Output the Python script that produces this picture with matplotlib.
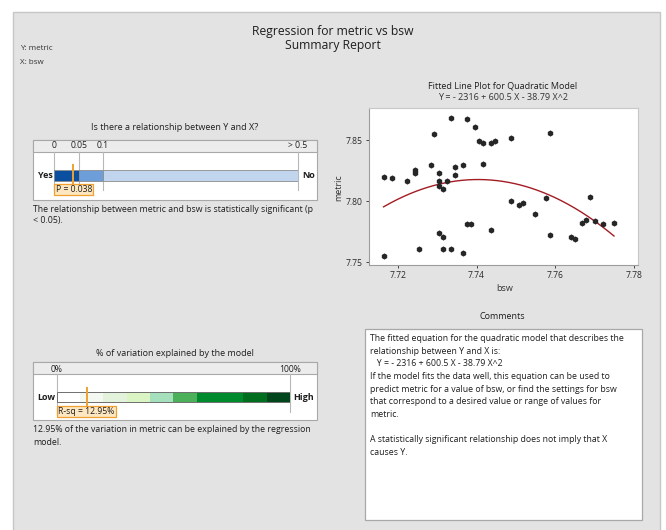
import numpy as np
import matplotlib.pyplot as plt
from matplotlib.patches import Rectangle

plt.rcParams['font.family'] = ['Open Sans', 'DejaVu Sans']

W, H = 666, 530

# observations
bsw = [7.7164, 7.7185, 7.7164, 7.7223, 7.7244, 7.7244, 7.7255, 7.7285, 7.7293, 7.7304,
       7.7304, 7.7304, 7.7315, 7.7304, 7.7315, 7.7315, 7.7324, 7.7334, 7.7334, 7.7345,
       7.7345, 7.7365, 7.7365, 7.7375, 7.7375, 7.7385, 7.7395, 7.7406, 7.7416, 7.7416,
       7.7436, 7.7446, 7.7436, 7.7488, 7.7488, 7.7507, 7.7517, 7.7548, 7.7577, 7.7587,
       7.7587, 7.7639, 7.7649, 7.7668, 7.7678, 7.7689, 7.7700, 7.7720, 7.7749]
metric = [7.8196, 7.8191, 7.7550, 7.8166, 7.8256, 7.8229, 7.7608, 7.8297, 7.8548, 7.8229,
          7.8169, 7.8125, 7.8098, 7.7741, 7.7711, 7.7605, 7.8169, 7.8681, 7.7608, 7.8210,
          7.8281, 7.8292, 7.7578, 7.8670, 7.7815, 7.7815, 7.8610, 7.8496, 7.8474, 7.8300,
          7.8474, 7.8496, 7.7763, 7.8515, 7.8005, 7.7967, 7.7986, 7.7896, 7.8025, 7.8559,
          7.7725, 7.7711, 7.7692, 7.7823, 7.7850, 7.8038, 7.7837, 7.7815, 7.7823]

# quadratic fit: Y = c + b X + a X^2
coef_b = 600.5
coef_a = -38.79
fit_peak = 7.8177

p_value = 0.038
p_ticks = [0, 0.05, 0.1, 0.5]
p_tick_labels = ['0', '0.05', '0.1', '> 0.5']
p_colors = ['#0b50a0', '#6d9ed9', '#c1d5ef']

rsq = 12.95
rsq_edges = [0, 10, 20, 30, 40, 50, 60, 80, 90, 100]
rsq_colors = ['#ffffff', '#f3f9f1', '#e3f2db', '#daf5c3', '#a6dfbc',
              '#4caf5a', '#008a2e', '#006e1f', '#00451b']

equation = 'Y = - 2316 + 600.5 X - 38.79 X^2'

ORANGE = '#f0a030'
TXT = '#1e1e1e'
FS = 6.3


def box(x0, y0, x1, y1):
    return [x0 / W, 1 - y1 / H, (x1 - x0) / W, (y1 - y0) / H]


def txt(x, y, s, **kw):
    kw.setdefault('va', 'center')
    kw.setdefault('color', TXT)
    kw.setdefault('fontsize', FS)
    return fig.text(x / W, 1 - y / H, s, **kw)


def rect(x0, y0, x1, y1, **kw):
    fig.patches.append(Rectangle((x0 / W, 1 - y1 / H), (x1 - x0) / W, (y1 - y0) / H,
                                 transform=fig.transFigure, zorder=-5, **kw))


fig = plt.figure(figsize=(W / 100, H / 100), dpi=100)
fig.patch.set_facecolor('white')
rect(13, 12, 660, 531, facecolor='#e3e3e3', edgecolor='#c6c6c6', lw=1)

# header
txt(333, 31, 'Regression for metric vs bsw', ha='center', fontsize=8.7)
txt(333, 45, 'Summary Report', ha='center', fontsize=8.7)
txt(20, 49, 'Y: metric', fontsize=5.8, color='#333333')
txt(20, 62, 'X: bsw', fontsize=5.8, color='#333333')

# ---- p-value panel ----
txt(175, 128, 'Is there a relationship between Y and X?', ha='center', fontsize=6.5)
rect(32.7, 140, 316.7, 200, facecolor='white', edgecolor='#a8a8a8', lw=0.8)
rect(32.7, 140, 316.7, 152, facecolor='#ececec', edgecolor='#a8a8a8', lw=0.8)

p_pos = [0, 25, 48.4, 243.7]
ax_p = fig.add_axes(box(54.3, 152, 298, 190))
ax_p.set_xscale('function', functions=(lambda p: np.interp(p, p_ticks, p_pos),
                                       lambda u: np.interp(u, p_pos, p_ticks)))
ax_p.set_xlim(0, 0.5)
ax_p.set_ylim(190, 152)
ax_p.axis('off')
for t in p_ticks:
    ax_p.axvline(t, color='#b8b8b8', lw=0.8, clip_on=False, zorder=1)
for t, lab in zip(p_ticks, p_tick_labels):
    ax_p.text(t, 146, lab, ha='center', va='center', fontsize=6.2, color=TXT, clip_on=False)
for i, c in enumerate(p_colors):
    ax_p.barh(175.5, p_ticks[i + 1] - p_ticks[i], left=p_ticks[i], height=11,
              color=c, edgecolor='#8c8c8c', lw=0.6, zorder=2)
ax_p.plot([p_value, p_value], [165, 184], color=ORANGE, lw=1.4, zorder=3, clip_on=False)
txt(52.5, 175.7, 'Yes', ha='right', fontsize=6.5, fontweight='bold')
txt(302.5, 175.7, 'No', ha='left', fontsize=6.5, fontweight='bold')
txt(55.5, 189.5, 'P = %.3f' % p_value, ha='left', fontsize=6.2,
    bbox=dict(boxstyle='square,pad=0.15', fc='#fde7c0', ec=ORANGE, lw=0.9))
txt(33, 209, 'The relationship between metric and bsw is statistically significant (p')
txt(33, 220.5, '< 0.05).')

# ---- R-sq panel ----
txt(175, 353, '% of variation explained by the model', ha='center', fontsize=6.5)
rect(32.7, 362, 316.7, 420, facecolor='white', edgecolor='#a8a8a8', lw=0.8)
rect(32.7, 362, 316.7, 374, facecolor='#ececec', edgecolor='#a8a8a8', lw=0.8)

ax_r = fig.add_axes(box(56.7, 374, 290, 412))
ax_r.set_xlim(0, 100)
ax_r.set_ylim(412, 374)
ax_r.axis('off')
for t in (0, 100):
    ax_r.axvline(t, color='#b8b8b8', lw=0.8, clip_on=False, zorder=1)
    ax_r.text(t, 369.3, '%d%%' % t, ha='center', va='center', fontsize=6.2, color=TXT,
              clip_on=False)
for i, c in enumerate(rsq_colors):
    ax_r.barh(397, rsq_edges[i + 1] - rsq_edges[i], left=rsq_edges[i], height=10,
              color=c, lw=0, zorder=2)
ax_r.barh(397, 100, height=10, fill=False, edgecolor='#6e6e6e', lw=0.7, zorder=3)
ax_r.plot([rsq, rsq], [388, 406.5], color=ORANGE, lw=1.4, zorder=4, clip_on=False)
txt(55, 397.7, 'Low', ha='right', fontsize=6.5, fontweight='bold')
txt(293, 397.7, 'High', ha='left', fontsize=6.5, fontweight='bold')
txt(58, 411.7, 'R-sq = %.2f%%' % rsq, ha='left', fontsize=6.2,
    bbox=dict(boxstyle='square,pad=0.15', fc='#fde7c0', ec=ORANGE, lw=0.9))
txt(33, 430, '%.2f%% of the variation in metric can be explained by the regression' % rsq)
txt(33, 442.5, 'model.')

# ---- fitted line plot ----
ax = fig.add_axes(box(369, 108, 638, 265))
ax.set_facecolor('white')
ax.scatter(bsw, metric, s=20, color='#262626', marker='h', linewidths=0, zorder=3)
x_peak = -coef_b / (2 * coef_a)
coef_c = fit_peak - coef_b * x_peak - coef_a * x_peak ** 2
xs = np.linspace(min(bsw), max(bsw), 200)
ax.plot(xs, coef_c + coef_b * xs + coef_a * xs ** 2, color='#a31c24', lw=1.0, zorder=2)
ax.set_xlim(7.7127, 7.781)
ax.set_ylim(7.7478, 7.8762)
ax.set_xticks([7.72, 7.74, 7.76, 7.78])
ax.set_yticks([7.75, 7.80, 7.85])
ax.xaxis.set_major_formatter(plt.FormatStrFormatter('%.2f'))
ax.yaxis.set_major_formatter(plt.FormatStrFormatter('%.2f'))
ax.tick_params(labelsize=6.2, colors='#2a2a2a', length=2.5, width=0.6, pad=2)
for side in ('left', 'bottom'):
    ax.spines[side].set_color('#9c9c9c')
for side in ('top', 'right'):
    ax.spines[side].set_color('#c8c8c8')
for s in ax.spines.values():
    s.set_linewidth(0.8)
txt(503, 85.7, 'Fitted Line Plot for Quadratic Model', ha='center', fontsize=6.5)
txt(503, 97.3, equation, ha='center', fontsize=6.5, color='#333333')
txt(338.3, 188, 'metric', ha='center', rotation=90, fontsize=6.5, color='#333333')
txt(505, 288.3, 'bsw', ha='center', fontsize=6.5, color='#333333')

# ---- comments ----
txt(502, 316.7, 'Comments', ha='center', fontsize=6.5)
rect(365, 329.3, 641.5, 519.5, facecolor='white', edgecolor='#a8a8a8', lw=0.9)
comment_lines = [
    'The fitted equation for the quadratic model that describes the',
    'relationship between Y and X is:',
    '   ' + equation,
    'If the model fits the data well, this equation can be used to',
    'predict metric for a value of bsw, or find the settings for bsw',
    'that correspond to a desired value or range of values for',
    'metric.',
    '',
    'A statistically significant relationship does not imply that X',
    'causes Y.',
]
for i, line in enumerate(comment_lines):
    txt(370, 338.3 + i * 12.7, line)

fig.savefig('out.png', dpi=100)
